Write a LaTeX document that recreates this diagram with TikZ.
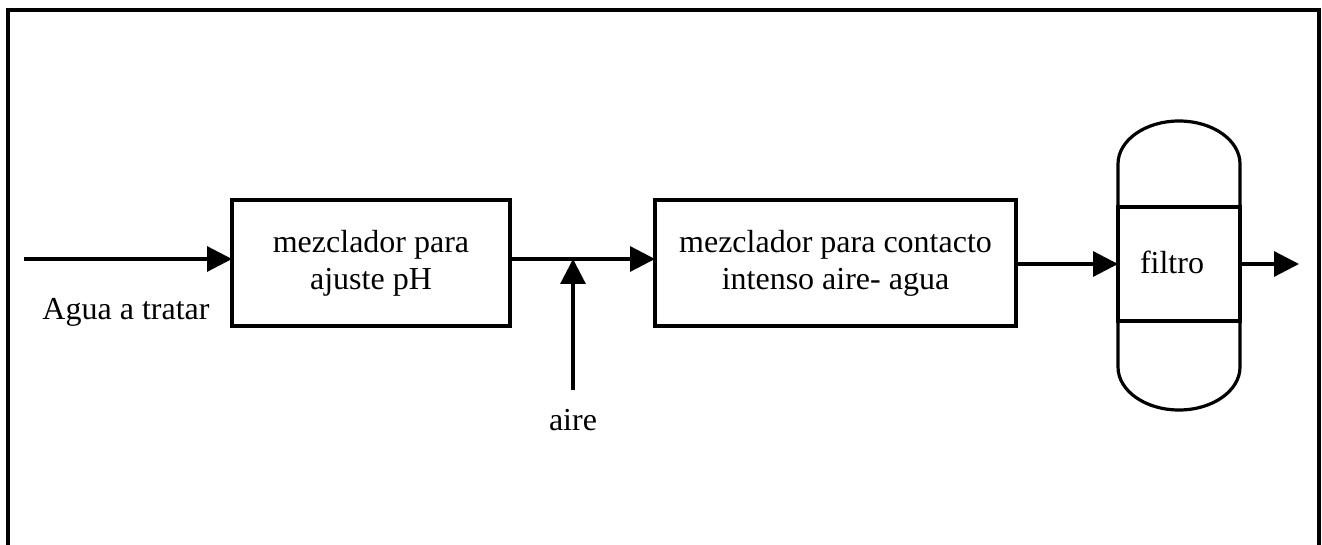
\documentclass[tikz,border=0pt]{standalone}
\usepackage{fontspec}
\setmainfont{Liberation Serif}
\usetikzlibrary{arrows.meta}
\begin{document}
\begin{tikzpicture}[x=1pt,y=1pt,
  line/.style={line width=3.2pt},
  flow/.style={line, -{Triangle[length=25pt,width=25pt]}},
  unit/.style={draw, line width=3.2pt, rectangle, minimum height=126pt, align=center, inner sep=0pt, outer sep=0pt},
  lbl/.style={font=\fontsize{32}{37}\selectfont, anchor=base, inner sep=0pt},
  every node/.style={font=\fontsize{32}{37}\selectfont}]
\useasboundingbox (0,0) rectangle (1322,544);
\draw[line width=4pt] (1319,-20) -- (1319,534) -- (8,534) -- (8,-20);
% units
\node[unit, minimum width=278pt] (mix1) at (371,281) {mezclador para\\ajuste pH};
\node[unit, minimum width=361pt] (mix2) at (835.5,281) {mezclador para contacto\\intenso aire- agua};
\node[draw, line width=3.2pt, rectangle, minimum width=122pt, minimum height=114pt, inner sep=0pt, outer sep=0pt] (filt) at (1179,280) {};
\node[lbl] (filtlbl) at (1172,270) {filtro};
\draw[line] (filt.north west) -- (1118,380) arc[start angle=180, end angle=0, x radius=61pt, y radius=43pt] -- (filt.north east);
\draw[line] (filt.south west) -- (1118,177) arc[start angle=180, end angle=360, x radius=61pt, y radius=43pt] -- (filt.south east);
% coordinates
\coordinate (in) at (24,285);
\coordinate (junc) at (573,285);
\coordinate (air) at (573,154);
\coordinate (out) at (1299,280);
% flows
\draw[flow] (in) -- (mix1.west |- in);
\draw[line] (mix1.east |- in) -- (junc);
\draw[flow] (junc) -- (mix2.west |- in);
\draw[flow] (air) -- (junc);
\draw[flow] (mix2.east |- filt.west) -- (filt.west);
\draw[flow] (filt.east) -- (out);
% labels
\node[lbl] (agua) at (126,225) {Agua a tratar};
\node[lbl] (aire) at (573,114) {aire};
\end{tikzpicture}
\end{document}
